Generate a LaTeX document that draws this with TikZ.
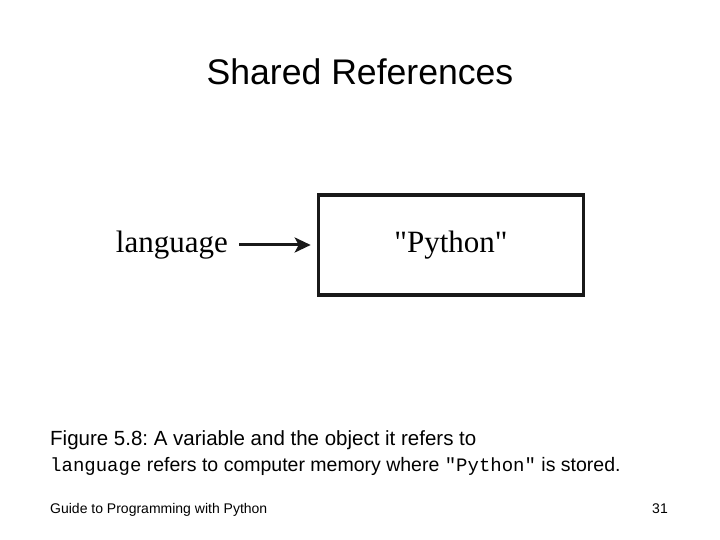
\documentclass[tikz,border=0pt]{standalone}
\usepackage{fontspec}
\setmainfont{Liberation Sans}
\setmonofont{Liberation Mono}
\newfontfamily\figfont{Liberation Serif}
\usepackage{tikz}
\usetikzlibrary{positioning, arrows.meta}
\frenchspacing

\begin{document}
\begin{tikzpicture}[
    x=1pt, y=1pt,
    title/.style={
        font=\fontsize{35.6}{40}\selectfont,
        inner sep=0pt,
        anchor=base
    },
    varname/.style={
        font=\figfont\fontsize{31}{36}\selectfont,
        inner sep=0pt
    },
    memory/.style={
        rectangle,
        draw=black!90,
        line width=3.3pt,
        minimum width=264.6pt,
        minimum height=100pt,
        inner sep=0pt,
        outer sep=0pt,
        font=\figfont\fontsize{31}{36}\selectfont
    },
    ref/.style={-{Stealth[length=16pt, width=15pt, inset=4pt]}, line width=3pt, black!90},
    caption/.style={font=\fontsize{19.5}{24}\selectfont, inner sep=0pt, anchor=base west},
    footer/.style={font=\fontsize{14}{17}\selectfont, inner sep=0pt, anchor=base west}
]

\useasboundingbox (0,0) rectangle (720,540);

\def\xl{50}

% Title
\node[title] (ttl) at (360, 455) {Shared References};

% Variable and object
\node[memory] (obj) at (451, 295) {"Python"};
\node[varname, left=90.7pt of obj] (var) {language};
\draw[ref, shorten <=11pt, shorten >=8pt] (var) -- (obj);

% Caption
\node[caption, font=\fontsize{20.5}{24}\selectfont] (cap) at (\xl, 94) {Figure 5.8: A variable and the object it refers to};
\node[caption] (note) at (\xl, 68) {\texttt{\fontsize{19}{24}\selectfont language} refers to computer memory where \texttt{\fontsize{19}{24}\selectfont "Python"} is stored.};

% Footer
\node[footer] (foot) at (\xl, 26) {Guide to Programming with Python};
\node[footer, anchor=base east] (pg) at (668, 26) {31};

\end{tikzpicture}
\end{document}
